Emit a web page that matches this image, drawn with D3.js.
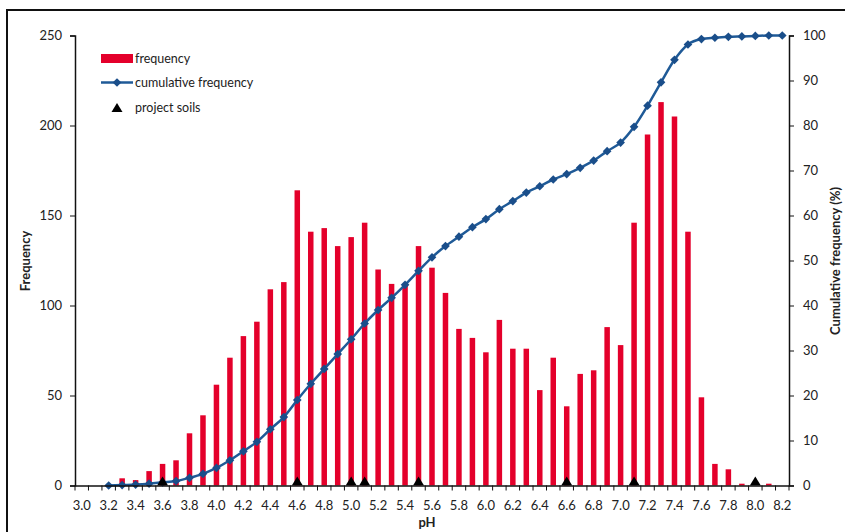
<!DOCTYPE html>
<html>
<head>
<meta charset="utf-8">
<script src="https://cdn.jsdelivr.net/npm/d3@7"></script>
<style>
  html, body { margin: 0; padding: 0; background: #fff; }
  svg { display: block; }
  text { font-family: Lato, "Open Sans", "Liberation Sans", sans-serif; fill: #222; }
</style>
</head>
<body>
<svg id="chart" width="845" height="532"></svg>
<script>
// pH classes (categories on the x axis)
const phClasses = ["3.0","3.1","3.2","3.3","3.4","3.5","3.6","3.7","3.8","3.9",
  "4.0","4.1","4.2","4.3","4.4","4.5","4.6","4.7","4.8","4.9",
  "5.0","5.1","5.2","5.3","5.4","5.5","5.6","5.7","5.8","5.9",
  "6.0","6.1","6.2","6.3","6.4","6.5","6.6","6.7","6.8","6.9",
  "7.0","7.1","7.2","7.3","7.4","7.5","7.6","7.7","7.8","7.9",
  "8.0","8.1","8.2"];

// number of samples in each pH class
const frequency = [0, 0, 0, 4, 3, 8, 12, 14, 29, 39,
  56, 71, 83, 91, 109, 113, 164, 141, 143, 133,
  138, 146, 120, 112, 112, 133, 121, 107, 87, 82,
  74, 92, 76, 76, 53, 71, 44, 62, 64, 88,
  78, 146, 195, 213, 205, 141, 49, 12, 9, 1,
  0, 1, 0];

// cumulative frequency (%), null where no value is plotted
const cumulative = [null, null, 0, 0.1, 0.2, 0.4, 0.7, 1.0, 1.7, 2.6,
  3.9, 5.6, 7.6, 9.7, 12.5, 15.2, 19.0, 22.6, 25.9, 29.2,
  32.5, 36.0, 39.0, 41.7, 44.6, 47.7, 50.7, 53.2, 55.3, 57.4,
  59.2, 61.4, 63.2, 65.1, 66.5, 68.0, 69.2, 70.6, 72.2, 74.3,
  76.2, 79.7, 84.4, 89.6, 94.6, 98.0, 99.2, 99.5, 99.7, 99.8,
  99.9, 100, 100];

// pH of the project soils
const projectSoils = ["3.6", "4.6", "5.0", "5.1", "5.5", "6.6", "7.1", "8.0"];

// axis ticks
const freqTicks = [0, 50, 100, 150, 200, 250];
const cumTicks = [0, 10, 20, 30, 40, 50, 60, 70, 80, 90, 100];
const xTickLabels = phClasses.filter((d, i) => i % 2 === 0);

const svg = d3.select("#chart");
const plot = { left: 75, right: 789, top: 35.5, bottom: 485.5 };

const x = d3.scaleBand().domain(phClasses).range([plot.left, plot.right]).padding(0);
const yL = d3.scaleLinear().domain([0, 250]).range([plot.bottom, plot.top]);
const yR = d3.scaleLinear().domain([0, 100]).range([plot.bottom, plot.top]);
const cx = c => x(c) + x.bandwidth() / 2;

// outer frame
svg.append("rect").attr("x", 7).attr("y", 10).attr("width", 900).attr("height", 600)
  .attr("fill", "none").attr("stroke", "#111").attr("stroke-width", 2);

const red = "#e4002b", blue = "#1f5a97", marker = "#1a4e8a";

// frequency bars
const barW = 5.5;
svg.append("g").selectAll("rect")
  .data(phClasses.map((c, i) => ({ c, v: frequency[i] })).filter(d => d.v > 0))
  .join("rect")
  .attr("x", d => cx(d.c) - barW / 2)
  .attr("width", barW)
  .attr("y", d => yL(d.v))
  .attr("height", d => yL(0) - yL(d.v))
  .attr("fill", red);

// cumulative frequency line with diamond markers
const cumData = phClasses.map((c, i) => ({ c, v: cumulative[i] })).filter(d => d.v !== null);
const line = d3.line()
  .x(d => cx(d.c))
  .y(d => yR(d.v))
  .curve(d3.curveMonotoneX);
svg.append("path").datum(cumData).attr("d", line)
  .attr("fill", "none").attr("stroke", blue).attr("stroke-width", 2.5);
const diamond = d3.symbol().type(d3.symbolDiamond2).size(48);
svg.append("g").selectAll("path").data(cumData).join("path")
  .attr("transform", d => `translate(${cx(d.c)},${yR(d.v)})`)
  .attr("d", diamond).attr("fill", marker);

// project soils markers on the baseline
const tri = (px, py) => `M${px - 5.5},${py} L${px + 5.5},${py} L${px},${py - 9} Z`;
svg.append("g").selectAll("path").data(projectSoils).join("path")
  .attr("d", d => tri(cx(d), yL(0)))
  .attr("fill", "#000");

// left axis
const gL = svg.append("g").attr("transform", `translate(${plot.left},0)`)
  .call(d3.axisLeft(yL).tickValues(freqTicks).tickSize(5).tickPadding(8));
// right axis
const gR = svg.append("g").attr("transform", `translate(${plot.right},0)`)
  .call(d3.axisRight(yR).tickValues(cumTicks).tickSize(5).tickPadding(9));
// bottom axis: ticks on category boundaries, labels on every other category
const gB = svg.append("g").attr("transform", `translate(0,${plot.bottom})`)
  .call(d3.axisBottom(x).tickValues(xTickLabels).tickSize(0).tickPadding(15));
gB.selectAll(".tick line").remove();
gB.append("g").selectAll("line")
  .data(d3.range(phClasses.length + 1))
  .join("line")
  .attr("x1", i => plot.left + i * x.step()).attr("x2", i => plot.left + i * x.step())
  .attr("y1", 0).attr("y2", 5).attr("stroke", "#111");

[gL, gR, gB].forEach(g => {
  g.select(".domain").attr("stroke", "#111").attr("stroke-width", 1.5);
  g.selectAll(".tick line").attr("stroke", "#111");
  g.selectAll(".tick text").attr("font-size", 13).attr("fill", "#222")
    .style("font-family", "Lato, 'Open Sans', sans-serif");
});

// axis titles
svg.append("text").attr("transform", "translate(30,261) rotate(-90)")
  .attr("text-anchor", "middle").attr("font-size", 13).attr("font-weight", "bold")
  .text("Frequency");
svg.append("text").attr("transform", "translate(840,261) rotate(-90)")
  .attr("text-anchor", "middle").attr("font-size", 13).attr("font-weight", "bold")
  .text("Cumulative frequency (%)");
svg.append("text").attr("x", 427).attr("y", 527)
  .attr("text-anchor", "middle").attr("font-size", 13).attr("font-weight", "bold")
  .text("pH");

// legend
const lg = svg.append("g");
lg.append("rect").attr("x", 101).attr("y", 54).attr("width", 32).attr("height", 9).attr("fill", red);
lg.append("text").attr("x", 135).attr("y", 63).attr("font-size", 12.5).text("frequency");
lg.append("line").attr("x1", 101).attr("x2", 133).attr("y1", 82.5).attr("y2", 82.5)
  .attr("stroke", blue).attr("stroke-width", 2.5);
lg.append("path").attr("transform", "translate(117,82.5)").attr("d", diamond).attr("fill", marker);
lg.append("text").attr("x", 135).attr("y", 87).attr("font-size", 12.5).text("cumulative frequency");
lg.append("path").attr("d", tri(117, 112)).attr("fill", "#000");
lg.append("text").attr("x", 135).attr("y", 112).attr("font-size", 12.5).text("project soils");
</script>
</body>
</html>
